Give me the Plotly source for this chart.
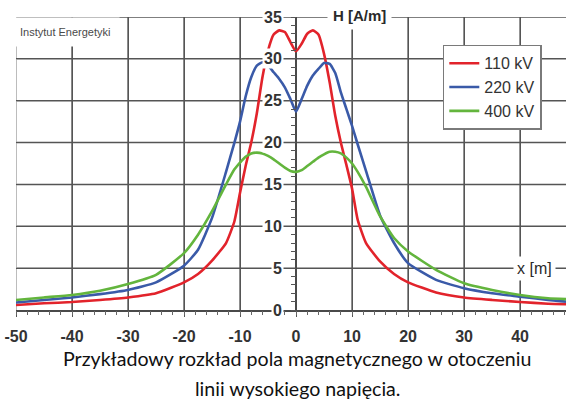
import plotly.graph_objects as go

# ---- data ----
x_m = [-50, -45, -40, -35, -30, -25, -20, -17.5, -15, -12.5, -11, -10, -9, -8, -7, -6, -5, -4, -3, -2, -1, 0,
       1, 2, 3, 4, 5, 6, 7, 8, 9, 10, 11, 12.5, 15, 17.5, 20, 25, 30, 35, 40, 45, 48.2]

h_110 = [0.6, 0.8, 0.95, 1.2, 1.5, 2.0, 3.3, 4.3, 5.9, 8.0, 10.6, 14.0, 17.2, 20.0, 23.5, 27.8, 31.0, 32.9, 33.4, 33.2, 32.0, 30.9,
         31.8, 33.0, 33.4, 32.9, 30.6, 27.2, 23.2, 20.0, 17.3, 14.5, 10.8, 8.0, 5.8, 4.3, 3.3, 2.1, 1.5, 1.2, 0.95, 0.75, 0.7]

h_220 = [0.9, 1.2, 1.5, 1.9, 2.4, 3.3, 5.3, 7.2, 11.0, 16.5, 20.0, 22.5, 25.5, 27.8, 29.2, 29.6, 29.2, 28.4, 27.6, 26.6, 25.2, 23.7,
         25.2, 26.8, 28.0, 28.8, 29.5, 29.4, 28.3, 26.0, 24.0, 22.0, 19.8, 16.6, 11.3, 8.0, 5.6, 3.6, 2.6, 2.0, 1.6, 1.2, 1.0]

h_400 = [1.2, 1.5, 1.8, 2.3, 3.1, 4.2, 6.8, 9.0, 11.8, 15.0, 16.8, 17.6, 18.3, 18.7, 18.8, 18.7, 18.4, 18.0, 17.5, 17.0, 16.6, 16.5,
         16.7, 17.2, 17.7, 18.2, 18.6, 18.9, 18.9, 18.7, 18.2, 17.5, 16.5, 14.7, 11.2, 8.6, 7.0, 4.8, 3.2, 2.4, 1.8, 1.4, 1.3]

series_names = ["110 kV", "220 kV", "400 kV"]
series_colors = ["#e2232b", "#3a5aa8", "#63b53d"]

x_ticks = [-50, -40, -30, -20, -10, 0, 10, 20, 30, 40]
y_ticks = [0, 5, 10, 15, 20, 25, 30, 35]
y_tick_labels = [str(v) for v in y_ticks]

caption_1 = "Przykładowy rozkład pola magnetycznego w otoczeniu"
caption_2 = "linii wysokiego napięcia."

# ---- figure ----
fig = go.Figure()
for name, ys, col in zip(series_names, [h_110, h_220, h_400], series_colors):
    fig.add_trace(go.Scatter(x=x_m, y=ys, name=name, mode="lines",
                             line=dict(color=col, width=2.6, shape="spline", smoothing=0.5),
                             hoverinfo="skip"))

# invisible trace that carries the overlay axes used for the tick marks on the axis lines
fig.add_trace(go.Scatter(x=[x_m[0]], y=[h_110[0]], xaxis="x2", yaxis="y2", mode="markers",
                         marker=dict(opacity=0), showlegend=False, hoverinfo="skip"))

base_font = "Liberation Sans, Arial, sans-serif"
tick_font = dict(family=base_font, size=16, color="#333333", weight="bold")
grid_col = "#555555"

x_range = [-50, 48.2]
y_range = [0, 35]
yaxis_pos = (0 - x_range[0]) / (x_range[1] - x_range[0])

fig.update_layout(
    template="none",
    width=566, height=405,
    margin=dict(l=16, r=0, t=17, b=95, autoexpand=False),
    paper_bgcolor="white", plot_bgcolor="white",
    showlegend=True,
    legend=dict(x=0.776, y=0.905, xanchor="left", yanchor="top",
                bgcolor="white", bordercolor="#7a7a7a", borderwidth=1.5,
                font=dict(family=base_font, size=16, color="#333"),
                itemwidth=30, tracegroupgap=0),
    xaxis=dict(range=x_range, tickmode="array", tickvals=x_ticks, ticktext=[str(v) for v in x_ticks],
               showgrid=True, gridcolor=grid_col, gridwidth=1,
               zeroline=True, zerolinecolor="#4a4a4a", zerolinewidth=1.6,
               showline=True, linecolor="#4a4a4a", linewidth=1.6,
               ticks="outside", ticklen=5, tickcolor="#555", tickwidth=1.2,
               ticklabelstandoff=6,
               tickfont=tick_font, automargin=False, fixedrange=True),
    yaxis=dict(range=y_range, tickmode="array", tickvals=y_ticks, showticklabels=False,
               showgrid=True, gridcolor=grid_col, gridwidth=1,
               zeroline=False, showline=False, ticks="",
               automargin=False, fixedrange=True),
    xaxis2=dict(range=x_range, overlaying="x", anchor="y", side="bottom",
                showgrid=False, zeroline=False, showline=False, showticklabels=False,
                tickmode="linear", tick0=0, dtick=2, ticks="outside", ticklen=4,
                tickcolor="#666", tickwidth=1, automargin=False, fixedrange=True),
    yaxis2=dict(range=y_range, overlaying="y", anchor="free", position=yaxis_pos, side="left",
                showgrid=False, zeroline=False, showline=False, showticklabels=False,
                tickmode="linear", tick0=0, dtick=1, ticks="outside", ticklen=5,
                tickcolor="#555", tickwidth=1, automargin=False, fixedrange=True),
)

# grid lines, taken from the tick arrays (drawn below the curves)
for v in x_ticks:
    if v == 0:
        continue
    fig.add_shape(type="line", xref="x", yref="y", x0=v, x1=v, y0=y_range[0], y1=y_range[1],
                  line=dict(color="#a0a0a0" if v == x_range[0] else grid_col, width=1.4), layer="below")
for v in y_ticks[1:]:
    fig.add_shape(type="line", xref="paper", yref="y", x0=0, x1=1, y0=v, y1=v,
                  line=dict(color=grid_col, width=1.4), layer="below")

# y tick labels left of the x=0 axis, on white boxes
for v, t in zip(y_ticks, y_tick_labels):
    fig.add_annotation(x=0, y=v, xref="x", yref="y", text=t, showarrow=False,
                       xanchor="right", yanchor="middle", xshift=-12,
                       font=tick_font, bgcolor="white", borderpad=1)

# axis titles
fig.add_annotation(x=5.6, y=35, xref="x", yref="y", text="H [A/m]", showarrow=False,
                   xanchor="left", yanchor="middle", yshift=2,
                   font=dict(family=base_font, size=15, color="#2a2a2a", weight="bold"),
                   bgcolor="white", borderpad=5)
fig.add_annotation(x=38.8, y=5, xref="x", yref="y", text="x [m]", showarrow=False,
                   xanchor="left", yanchor="middle",
                   font=dict(family=base_font, size=16, color="#2a2a2a"),
                   bgcolor="white", borderpad=3)
fig.add_annotation(x=-0.009, y=0.95, xref="paper", yref="paper", text="Instytut Energetyki", showarrow=False,
                   xanchor="left", yanchor="middle",
                   font=dict(family=base_font, size=11, color="#4a4a4a"),
                   bgcolor="white", borderpad=8)

# caption
cap_font = dict(family="Lato, Open Sans, sans-serif", size=19.6, color="#111")
fig.add_annotation(x=0.511, y=-0.166, xref="paper", yref="paper", text=caption_1, showarrow=False,
                   xanchor="center", yanchor="middle", font=cap_font)
fig.add_annotation(x=0.511, y=-0.267, xref="paper", yref="paper", text=caption_2, showarrow=False,
                   xanchor="center", yanchor="middle", font=cap_font)

fig.write_html("out.html", config={"displayModeBar": False},
               post_script="document.body.style.margin='0';document.body.style.overflow='hidden';")
